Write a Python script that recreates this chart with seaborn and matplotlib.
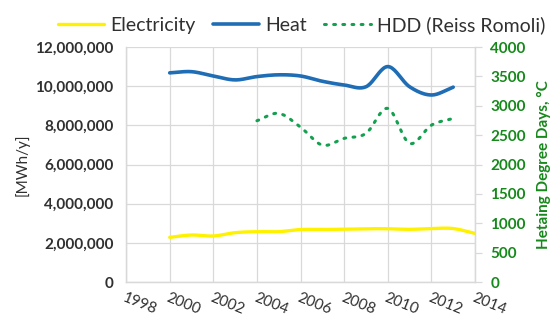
import numpy as np
import pandas as pd
import matplotlib
matplotlib.use("Agg")
import matplotlib.pyplot as plt
import seaborn as sns
from matplotlib.ticker import FuncFormatter

# Annual energy demand and heating degree days
years = [2000, 2001, 2002, 2003, 2004, 2005, 2006, 2007, 2008, 2009, 2010, 2011, 2012, 2013, 2014]
electricity = [2.28e6, 2.40e6, 2.35e6, 2.52e6, 2.57e6, 2.57e6, 2.68e6, 2.68e6, 2.70e6,
               2.72e6, 2.72e6, 2.69e6, 2.73e6, 2.73e6, 2.48e6]
heat_years = [2000, 2001, 2002, 2003, 2004, 2005, 2006, 2007, 2008, 2009, 2010, 2011, 2012, 2013]
heat = [10.68e6, 10.74e6, 10.52e6, 10.32e6, 10.49e6, 10.58e6, 10.52e6, 10.25e6, 10.06e6,
        9.97e6, 11.00e6, 9.97e6, 9.55e6, 9.95e6]
hdd_years = [2004, 2005, 2006, 2007, 2008, 2009, 2010, 2011, 2012, 2013]
hdd = [2745, 2870, 2635, 2330, 2445, 2530, 2955, 2360, 2670, 2785]

left_ticks = [0, 2e6, 4e6, 6e6, 8e6, 10e6, 12e6]
right_ticks = [0, 500, 1000, 1500, 2000, 2500, 3000, 3500, 4000]
x_ticks = [1998, 2000, 2002, 2004, 2006, 2008, 2010, 2012, 2014]


def smooth(x, y, n=20):
    """Catmull-Rom curve through the points, as used for smoothed line charts."""
    x = np.asarray(x, float)
    y = np.asarray(y, float)
    px = np.concatenate([[2 * x[0] - x[1]], x, [2 * x[-1] - x[-2]]])
    py = np.concatenate([[2 * y[0] - y[1]], y, [2 * y[-1] - y[-2]]])
    xs, ys = [], []
    t = np.linspace(0, 1, n, endpoint=False)
    for i in range(1, len(px) - 2):
        for p, out in ((px, xs), (py, ys)):
            p0, p1, p2, p3 = p[i - 1], p[i], p[i + 1], p[i + 2]
            out.extend(0.5 * ((2 * p1) + (-p0 + p2) * t
                              + (2 * p0 - 5 * p1 + 4 * p2 - p3) * t ** 2
                              + (-p0 + 3 * p1 - 3 * p2 + p3) * t ** 3))
    xs.append(x[-1])
    ys.append(y[-1])
    return pd.DataFrame({"year": xs, "value": ys})


sns.set_style("white")
plt.rcParams["font.family"] = ["Lato", "DejaVu Sans"]

fig = plt.figure(figsize=(5.53, 3.31), dpi=100)
ax = fig.add_axes([0.228, 0.148, 0.631, 0.710])
ax2 = ax.twinx()

c_el = "#FFF200"
c_heat = "#1F6DB4"
c_hdd = "#14A050"
c_green = "#16891B"
c_text = "#303030"
c_grid = "#D9D9D9"

sns.lineplot(data=smooth(years, electricity), x="year", y="value", ax=ax,
             color=c_el, lw=2.4, label="Electricity", sort=False, legend=False)
sns.lineplot(data=smooth(heat_years, heat), x="year", y="value", ax=ax,
             color=c_heat, lw=2.6, label="Heat", sort=False, legend=False)
sns.lineplot(data=smooth(hdd_years, hdd), x="year", y="value", ax=ax2,
             color=c_hdd, lw=2.2, label="HDD (Reiss Romoli)", sort=False, legend=False)
ax2.lines[0].set_linestyle((0, (0.6, 2.4)))
ax2.lines[0].set_dash_capstyle("round")

ax.set_xlim(1998, 2014)
ax.set_ylim(0, 12e6)
ax2.set_ylim(0, 4000)
ax.set_xticks(x_ticks)
ax.set_yticks(left_ticks)
ax2.set_yticks(right_ticks)
ax.yaxis.set_major_formatter(FuncFormatter(lambda v, p: f"{int(v):,}"))

ax.grid(True, color=c_grid, lw=0.9)
ax2.grid(False)
ax.set_axisbelow(True)
ax.spines["top"].set_visible(False)
ax2.spines["top"].set_visible(False)
for a in (ax, ax2):
    for s in ["left", "right", "bottom"]:
        a.spines[s].set_color(c_grid)
        a.spines[s].set_linewidth(0.9)

ax.tick_params(axis="y", length=0, pad=9, labelsize=11, labelcolor=c_text)
ax.tick_params(axis="x", length=0, pad=6, labelsize=11, labelcolor=c_text)
ax2.tick_params(axis="y", length=5, width=0.9, color=c_grid, pad=6,
                labelsize=11, labelcolor=c_green)
for lab in ax.get_xticklabels():
    lab.set_rotation(-22)
    lab.set_ha("left")
    lab.set_va("top")
    lab.set_rotation_mode("anchor")
for lab in ax.get_yticklabels():
    lab.set_fontweight("bold")
for lab in ax2.get_yticklabels():
    lab.set_fontweight("bold")

ax.set_ylabel("[MWh/y]", fontsize=11, color=c_text, labelpad=4)
ax2.set_ylabel("Hetaing Degree Days, °C", fontsize=11, color=c_green,
               fontweight="bold", labelpad=8)
ax.set_xlabel("")

handles = ax.lines[:2] + ax2.lines[:1]
fig.legend(handles, [h.get_label() for h in handles], loc="upper center",
           bbox_to_anchor=(0.545, 1.005), ncol=3, frameon=False, fontsize=14,
           handlelength=2.4, handletextpad=0.3, columnspacing=0.9,
           labelcolor=c_text)

fig.savefig("out.png", dpi=100)
